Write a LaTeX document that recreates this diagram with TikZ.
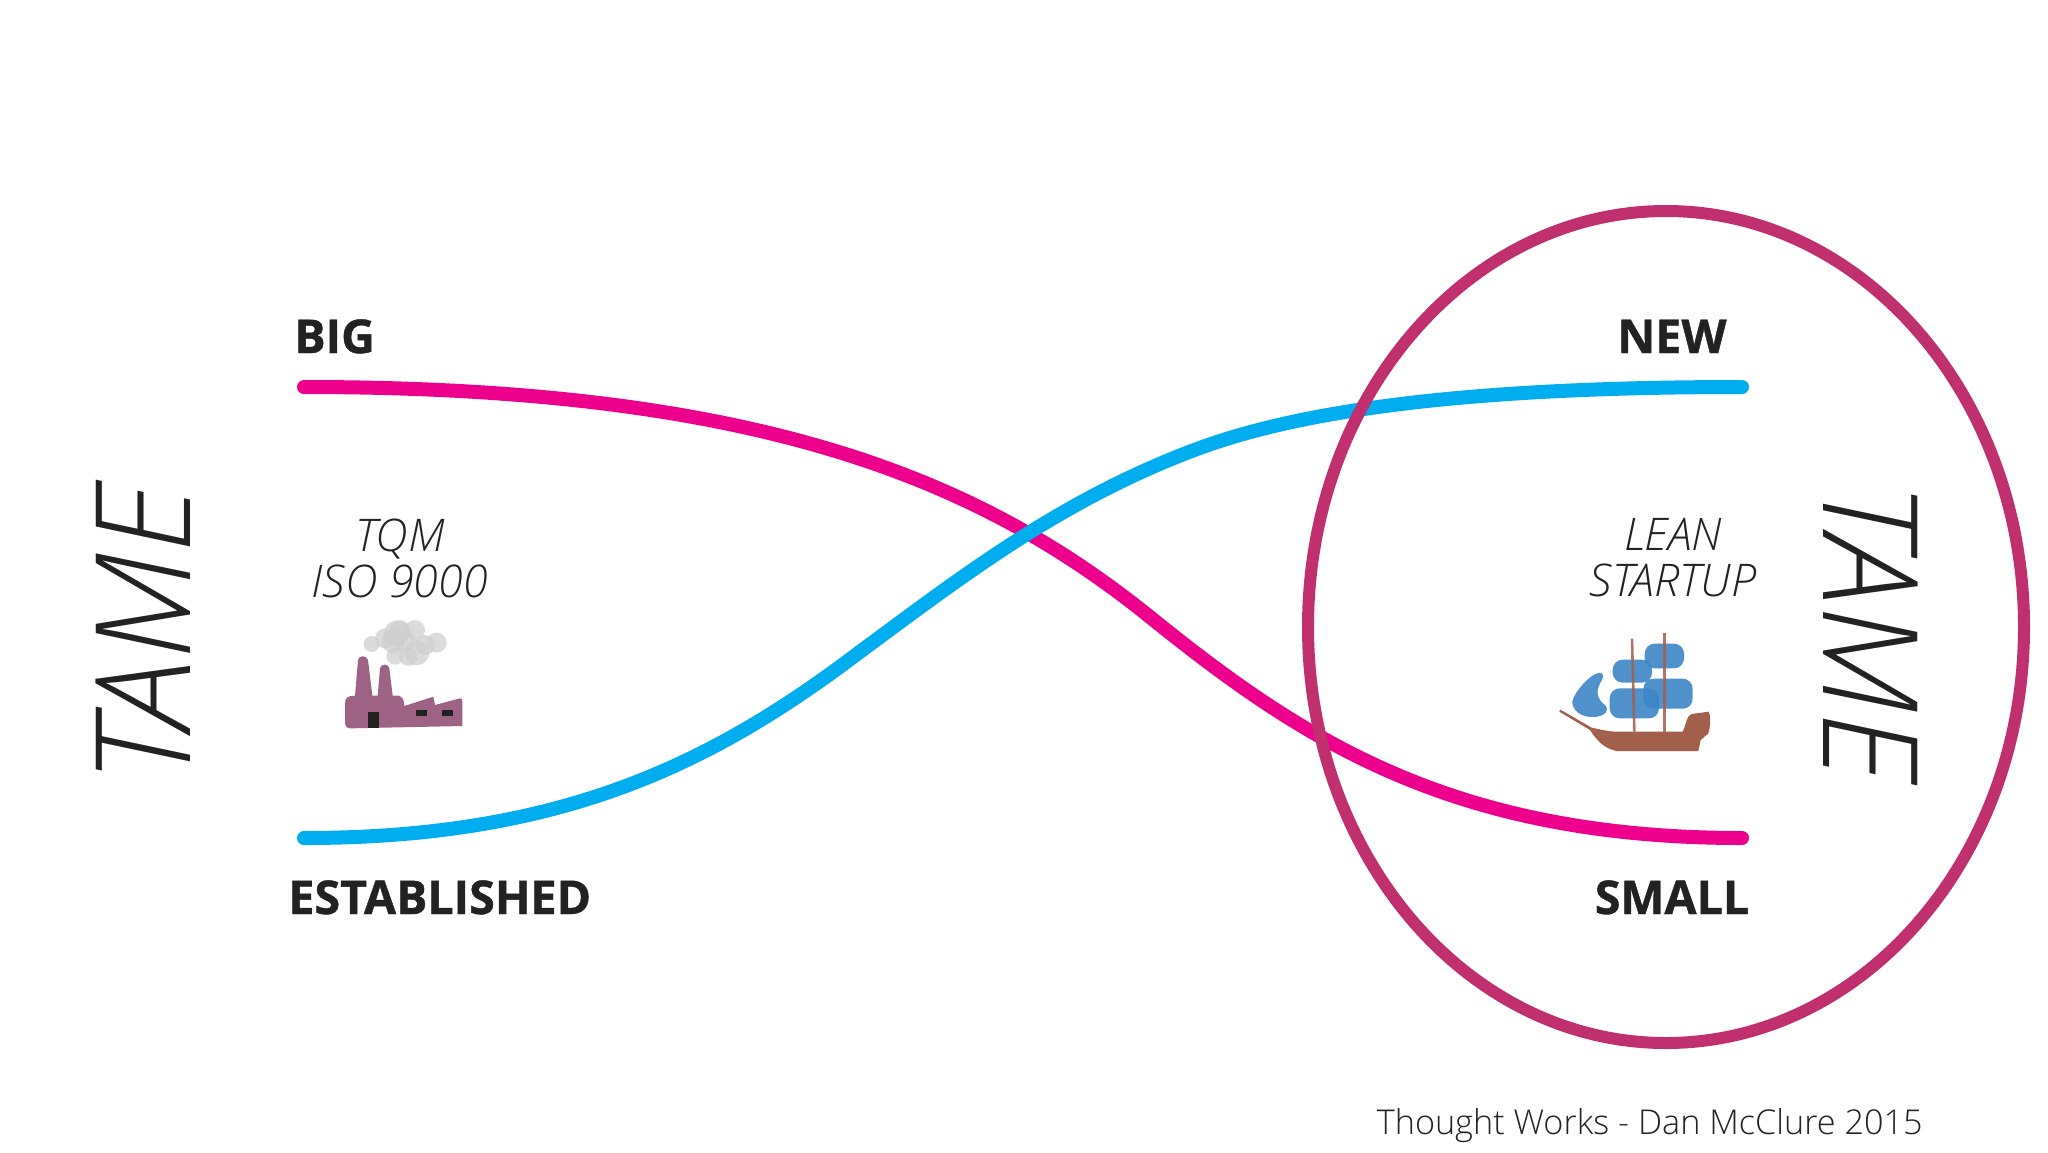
\documentclass[tikz,border=0pt]{standalone}
\usepackage{fontspec}
\usetikzlibrary{shapes.geometric}
\setmainfont{Open Sans}
\newfontface\lightit{Open Sans Light Italic}
\newfontface\lightup{Open Sans Light}
\newfontface\xbold{Open Sans Bold}[FakeBold=0.9]
\definecolor{curvepink}{HTML}{EC008C}
\definecolor{curveblue}{HTML}{00AEEF}
\definecolor{ringred}{HTML}{C1306E}
\definecolor{inkdark}{HTML}{222222}
\definecolor{factory}{HTML}{9E6284}
\definecolor{smoke}{HTML}{CFCFCF}
\definecolor{sail}{HTML}{3D85C6}
\definecolor{hull}{HTML}{A25F4C}
\tikzset{
  curve/.style={line width=7pt,line cap=round,line join=round},
  biglabel/.style={font=\xbold\fontsize{23.3}{24}\selectfont,text=inkdark,inner sep=0pt},
  tamelabel/.style={font=\lightit\fontsize{66}{66}\selectfont,text=inkdark,inner sep=0pt},
  method/.style={font=\lightit\fontsize{22.5}{23}\selectfont,text=inkdark,inner sep=0pt,align=center},
  cloud/.style={fill=smoke,fill opacity=0.75,draw=none},
  sailpatch/.style={fill=sail,fill opacity=0.9,draw=none,rounded corners=5pt},
}
\begin{document}
\begin{tikzpicture}[x=0.5pt,y=-0.5pt]
\useasboundingbox (0,0) rectangle (2048,1152);
\fill[white] (0,0) rectangle (2048,1152);
\coordinate (bigstart) at (304,387);
\coordinate (smallend) at (1742,838);
\coordinate (eststart) at (304,838);
\coordinate (newend) at (1742,387);
\coordinate (pinkmid) at (1150,617);
\coordinate (bluemid) at (857,654);
\coordinate (blueknee) at (1197,449);
\draw[curve,curvepink] (bigstart) .. controls (760,387) and (980,480) .. (pinkmid) .. controls (1300,738) and (1450,838) .. (smallend);
\draw[curve,curveblue] (eststart) .. controls (560,838) and (710,765) .. (bluemid) .. controls (960,578) and (1060,500) .. (blueknee) .. controls (1307,408) and (1480,387) .. (newend);
\node[draw=ringred,line width=6pt,ellipse,minimum width=358pt,minimum height=416pt,inner sep=0pt] (ring) at (1666,627) {};
\node[biglabel,anchor=base west] (big) at (294,353) {BIG};
\node[biglabel,anchor=base] (new) at (1672,353) {NEW};
\node[biglabel,anchor=base west] (est) at (288,914) {ESTABLISHED};
\node[biglabel,anchor=base] (small) at (1672,914) {SMALL};
\node[tamelabel,rotate=90] (tameleft) at (143,634) {TAME};
\node[tamelabel,rotate=-90] (tameright) at (1871,632) {TAME};
\node[method] (tqm) at (400,558) {TQM\\ISO 9000};
\node[method] (lean) at (1673,558) {LEAN\\STARTUP};
\node[font=\lightup\fontsize{17.1}{18}\selectfont,text=inkdark,inner sep=0pt,anchor=base east] (credit) at (1923,1134) {Thought Works - Dan McClure 2015};
% factory
\begin{scope}[shift={(300,490)},x=0.16667pt,y=-0.16667pt]
\foreach \cx/\cy/\r in {215/462/24,255/445/30,290/430/38,345/420/30,280/455/35,410/458/30,350/488/38,285/498/26,315/455/32,375/465/30,325/500/28,300/420/30}
  \fill[cloud] (\cx,\cy) circle [radius=\r*0.16667pt];
\fill[factory] (135,640) .. controls (135,622) and (145,617) .. (165,617) -- (174,510) .. controls (176,495) and (200,495) .. (204,510) -- (217,617) -- (233,617) -- (240,535) .. controls (243,520) and (265,520) .. (268,535) -- (278,617) -- (295,617) .. controls (308,620) and (312,630) .. (313,648) -- (400,620) -- (405,645) -- (480,625) .. controls (486,625) and (487,628) .. (487,635) -- (487,708) -- (150,715) .. controls (138,714) and (135,705) .. (135,695) -- cycle;
\fill[inkdark] (205,665) rectangle (238,714);
\fill[inkdark] (348,660) rectangle (381,679);
\fill[inkdark] (426,660) rectangle (459,679);
\end{scope}
% ship
\begin{scope}[shift={(1540,620)},x=0.16667pt,y=-0.16667pt]
\fill[hull] (60,270) -- (63,270) -- (155,323) .. controls (180,328) and (205,335) .. (230,335) -- (428,335) .. controls (438,315) and (440,285) .. (455,282) -- (505,275) .. controls (512,280) and (512,320) .. (505,340) -- (482,360) -- (475,393) -- (230,393) .. controls (190,385) and (170,360) .. (150,330) -- (58,275) -- cycle;
\fill[sail,fill opacity=0.9] (97,245) .. controls (100,220) and (150,160) .. (180,158) .. controls (195,160) and (190,175) .. (180,190) .. controls (165,220) and (175,240) .. (195,255) .. controls (210,270) and (195,292) .. (155,291) .. controls (120,290) and (97,270) .. (97,245) -- cycle;
\fill[sailpatch] (218,119) rectangle (336,188);
\fill[sailpatch] (314,71) rectangle (432,145);
\fill[sailpatch] (209,205) rectangle (357,295);
\fill[sailpatch] (310,176) rectangle (458,266);
\draw[hull,line width=1.3pt,opacity=.85] (276,56) -- (283,335);
\draw[hull,line width=1.3pt,opacity=.85] (373,38) -- (373,335);
\end{scope}
\end{tikzpicture}
\end{document}
